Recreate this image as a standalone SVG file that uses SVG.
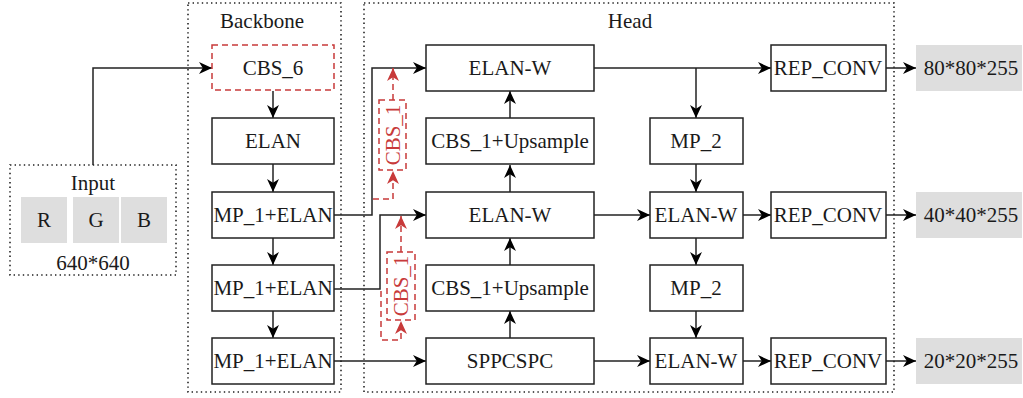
<svg xmlns="http://www.w3.org/2000/svg" width="1023" height="398" viewBox="0 0 1023 398">
  <defs>
    <marker id="arrow" viewBox="0 0 12 12" refX="12" refY="6" markerWidth="13" markerHeight="13" markerUnits="userSpaceOnUse" orient="auto">
      <path d="M0,0.5 L12,6 L0,11.5 L3.5,6 Z" fill="#000"/>
    </marker>
    <marker id="arrow-red" viewBox="0 0 12 12" refX="12" refY="6" markerWidth="13" markerHeight="13" markerUnits="userSpaceOnUse" orient="auto">
      <path d="M0,0.5 L12,6 L0,11.5 L3.5,6 Z" fill="#c83a3a"/>
    </marker>
  </defs>
  <style>
    text { font-family: "Liberation Serif", "Times New Roman", serif; font-size: 21px; fill: #1a1a1a; text-anchor: middle; dominant-baseline: central; }
    .group { fill: none; stroke: #222; stroke-width: 1.6; stroke-dasharray: 1.4 3.2; }
    .box { fill: #fff; stroke: #222; stroke-width: 1.5; }
    .dbox { fill: #fff; stroke: #c83a3a; stroke-width: 1.5; stroke-dasharray: 6 4; }
    .gray { fill: #dedede; stroke: none; }
    .red { fill: #c83a3a; }
    .edge { fill: none; stroke: #222; stroke-width: 1.5; marker-end: url(#arrow); }
    .redge-a { fill: none; stroke: #c83a3a; stroke-width: 1.5; stroke-dasharray: 6 4; marker-end: url(#arrow-red); }
  </style>

  <!-- group frames -->
  <g id="input">
    <rect class="group" x="10" y="165" width="166" height="110"/>
    <text x="93" y="183">Input</text>
    <rect class="gray" x="21" y="197" width="46" height="46"/>
    <rect class="gray" x="73" y="197" width="46" height="46"/>
    <rect class="gray" x="121" y="197" width="46" height="46"/>
    <text x="44" y="220">R</text>
    <text x="96" y="220">G</text>
    <text x="144" y="220">B</text>
    <text x="93" y="263">640*640</text>
  </g>
  <g id="backbone">
    <rect class="group" x="188" y="3" width="153" height="389"/>
    <text x="262" y="21">Backbone</text>
  </g>
  <g id="head">
    <rect class="group" x="364" y="3" width="530" height="389"/>
    <text x="630" y="21">Head</text>
  </g>

  <!-- connectors -->
  <g id="connectors">
    <path class="edge" d="M93,165 V68 H212"/>
    <path class="edge" d="M273,91 V118"/>
    <path class="edge" d="M273,164 V192"/>
    <path class="edge" d="M273,238 V265"/>
    <path class="edge" d="M273,311 V338"/>
    <path class="edge" d="M334,215 H372 V68 H426"/>
    <path class="edge" d="M334,289 H380 V215 H426"/>
    <path class="edge" d="M334,361 H426"/>
    <path class="edge" d="M510,338 V311"/>
    <path class="edge" d="M510,265 V238"/>
    <path class="edge" d="M510,192 V165"/>
    <path class="edge" d="M510,118 V91"/>
    <path class="edge" d="M594,68 H771"/>
    <path class="edge" d="M696,68 V118"/>
    <path class="edge" d="M696,164 V192"/>
    <path class="edge" d="M594,215 H650"/>
    <path class="edge" d="M743,215 H771"/>
    <path class="edge" d="M696,238 V265"/>
    <path class="edge" d="M696,311 V338"/>
    <path class="edge" d="M594,361 H650"/>
    <path class="edge" d="M743,361 H771"/>
    <path class="edge" d="M886,68 H916"/>
    <path class="edge" d="M886,215 H916"/>
    <path class="edge" d="M886,361 H916"/>
    <!-- CBS_1 side branches -->
    <path class="redge-a" d="M373,199 H393 V171"/>
    <path class="redge-a" d="M393,100 V68"/>
    <path class="redge-a" d="M381,291 V340 H401 V321"/>
    <path class="redge-a" d="M401,252 V216"/>
  </g>

  <!-- backbone nodes -->
  <g id="cbs6">
    <rect class="dbox" x="212" y="45" width="122" height="45"/>
    <text x="273" y="68">CBS_6</text>
  </g>
  <g id="elan">
    <rect class="box" x="212" y="118" width="122" height="46"/>
    <text x="273" y="141">ELAN</text>
  </g>
  <g id="mp1-elan-1">
    <rect class="box" x="212" y="192" width="122" height="46"/>
    <text x="273" y="215">MP_1+ELAN</text>
  </g>
  <g id="mp1-elan-2">
    <rect class="box" x="212" y="265" width="122" height="46"/>
    <text x="273" y="288">MP_1+ELAN</text>
  </g>
  <g id="mp1-elan-3">
    <rect class="box" x="212" y="338" width="122" height="46"/>
    <text x="273" y="361">MP_1+ELAN</text>
  </g>

  <!-- CBS_1 side blocks -->
  <g id="cbs1-a">
    <rect class="dbox" x="379" y="100" width="27" height="70"/>
    <text class="red" x="393" y="135" transform="rotate(-90 393 135)">CBS_1</text>
  </g>
  <g id="cbs1-b">
    <rect class="dbox" x="387" y="252" width="28" height="68"/>
    <text class="red" x="401" y="286" transform="rotate(-90 401 286)">CBS_1</text>
  </g>

  <!-- head nodes -->
  <g id="elanw-1">
    <rect class="box" x="426" y="45" width="168" height="46"/>
    <text x="510" y="68">ELAN-W</text>
  </g>
  <g id="upsample-1">
    <rect class="box" x="426" y="118" width="168" height="46"/>
    <text x="510" y="141">CBS_1+Upsample</text>
  </g>
  <g id="elanw-2">
    <rect class="box" x="426" y="192" width="168" height="46"/>
    <text x="510" y="215">ELAN-W</text>
  </g>
  <g id="upsample-2">
    <rect class="box" x="426" y="265" width="168" height="46"/>
    <text x="510" y="288">CBS_1+Upsample</text>
  </g>
  <g id="sppcspc">
    <rect class="box" x="426" y="338" width="168" height="46"/>
    <text x="510" y="361">SPPCSPC</text>
  </g>
  <g id="mp2-1">
    <rect class="box" x="650" y="118" width="93" height="46"/>
    <text x="696" y="141">MP_2</text>
  </g>
  <g id="elanw-3">
    <rect class="box" x="650" y="192" width="93" height="46"/>
    <text x="696" y="215">ELAN-W</text>
  </g>
  <g id="mp2-2">
    <rect class="box" x="650" y="265" width="93" height="46"/>
    <text x="696" y="288">MP_2</text>
  </g>
  <g id="elanw-4">
    <rect class="box" x="650" y="338" width="93" height="46"/>
    <text x="696" y="361">ELAN-W</text>
  </g>
  <g id="repconv-1">
    <rect class="box" x="771" y="45" width="115" height="46"/>
    <text x="828" y="68">REP_CONV</text>
  </g>
  <g id="repconv-2">
    <rect class="box" x="771" y="192" width="115" height="46"/>
    <text x="828" y="215">REP_CONV</text>
  </g>
  <g id="repconv-3">
    <rect class="box" x="771" y="338" width="115" height="46"/>
    <text x="828" y="361">REP_CONV</text>
  </g>

  <!-- outputs -->
  <g id="out-80">
    <rect class="gray" x="916" y="45" width="106" height="46"/>
    <text x="971" y="68">80*80*255</text>
  </g>
  <g id="out-40">
    <rect class="gray" x="916" y="192" width="106" height="46"/>
    <text x="971" y="215">40*40*255</text>
  </g>
  <g id="out-20">
    <rect class="gray" x="916" y="338" width="106" height="46"/>
    <text x="971" y="361">20*20*255</text>
  </g>
</svg>
